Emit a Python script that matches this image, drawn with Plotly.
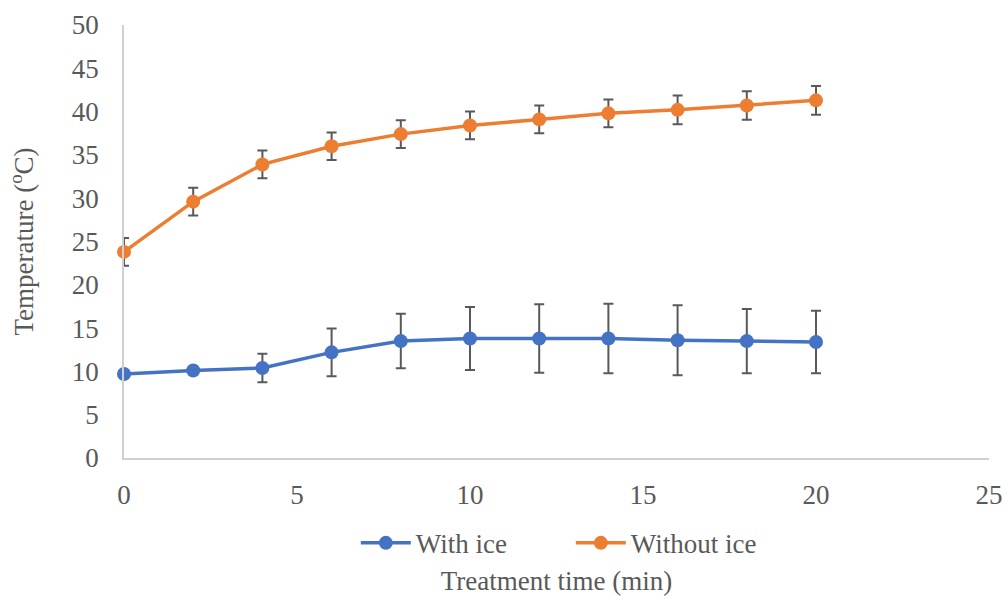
import plotly.graph_objects as go

# Treatment time (min)
time_min = [0, 2, 4, 6, 8, 10, 12, 14, 16, 18, 20]

# Mean temperature (°C) and standard deviation for each treatment
with_ice = [9.7, 10.1, 10.4, 12.2, 13.5, 13.8, 13.8, 13.8, 13.6, 13.5, 13.4]
with_ice_sd = [0.2, 0.3, 1.65, 2.75, 3.15, 3.65, 3.95, 4.0, 4.05, 3.7, 3.6]

without_ice = [23.8, 29.6, 33.9, 36.0, 37.4, 38.4, 39.1, 39.8, 40.2, 40.7, 41.3]
without_ice_sd = [1.6, 1.6, 1.6, 1.6, 1.6, 1.6, 1.6, 1.6, 1.65, 1.65, 1.65]

BLUE = "#4472C4"
ORANGE = "#ED7D31"
TEXT = "#595959"
AXIS = "#D0D0D0"
FONT = "Liberation Serif"

fig = go.Figure()

for name, y, sd, color in [
    ("With ice", with_ice, with_ice_sd, BLUE),
    ("Without ice", without_ice, without_ice_sd, ORANGE),
]:
    fig.add_trace(
        go.Scatter(
            x=time_min,
            y=y,
            name=name,
            mode="lines+markers",
            line=dict(color=color, width=3.5),
            marker=dict(color=color, size=14),
            error_y=dict(type="data", array=sd, visible=True,
                         color=TEXT, thickness=2, width=5),
            cliponaxis=False,
        )
    )

fig.update_layout(
    width=1008,
    height=596,
    margin=dict(l=124, r=19, t=25, b=138, autoexpand=False),
    paper_bgcolor="white",
    plot_bgcolor="white",
    font=dict(family=FONT, size=27, color=TEXT),
    showlegend=True,
    legend=dict(
        orientation="h",
        x=0.268, xanchor="left",
        y=-0.197, yanchor="middle",
        font=dict(family=FONT, size=27, color=TEXT),
        itemwidth=50,
        entrywidth=150,
    ),
    xaxis=dict(
        range=[0, 25],
        dtick=5,
        showgrid=False,
        zeroline=False,
        showline=True,
        linecolor=AXIS,
        linewidth=1.5,
        ticks="",
        automargin=False,
        ticklabelstandoff=12,
        title=dict(text="Treatment time (min)", standoff=64,
                   font=dict(family=FONT, size=27, color=TEXT)),
    ),
    yaxis=dict(
        range=[0, 50],
        dtick=5,
        showgrid=False,
        zeroline=False,
        showline=True,
        linecolor=AXIS,
        linewidth=1.5,
        ticks="",
        automargin=False,
        ticklabelstandoff=18,
        title=dict(text="Temperature (<sup>o</sup>C)", standoff=30,
                   font=dict(family=FONT, size=27, color=TEXT)),
    ),
)

fig.write_html("out.html")
